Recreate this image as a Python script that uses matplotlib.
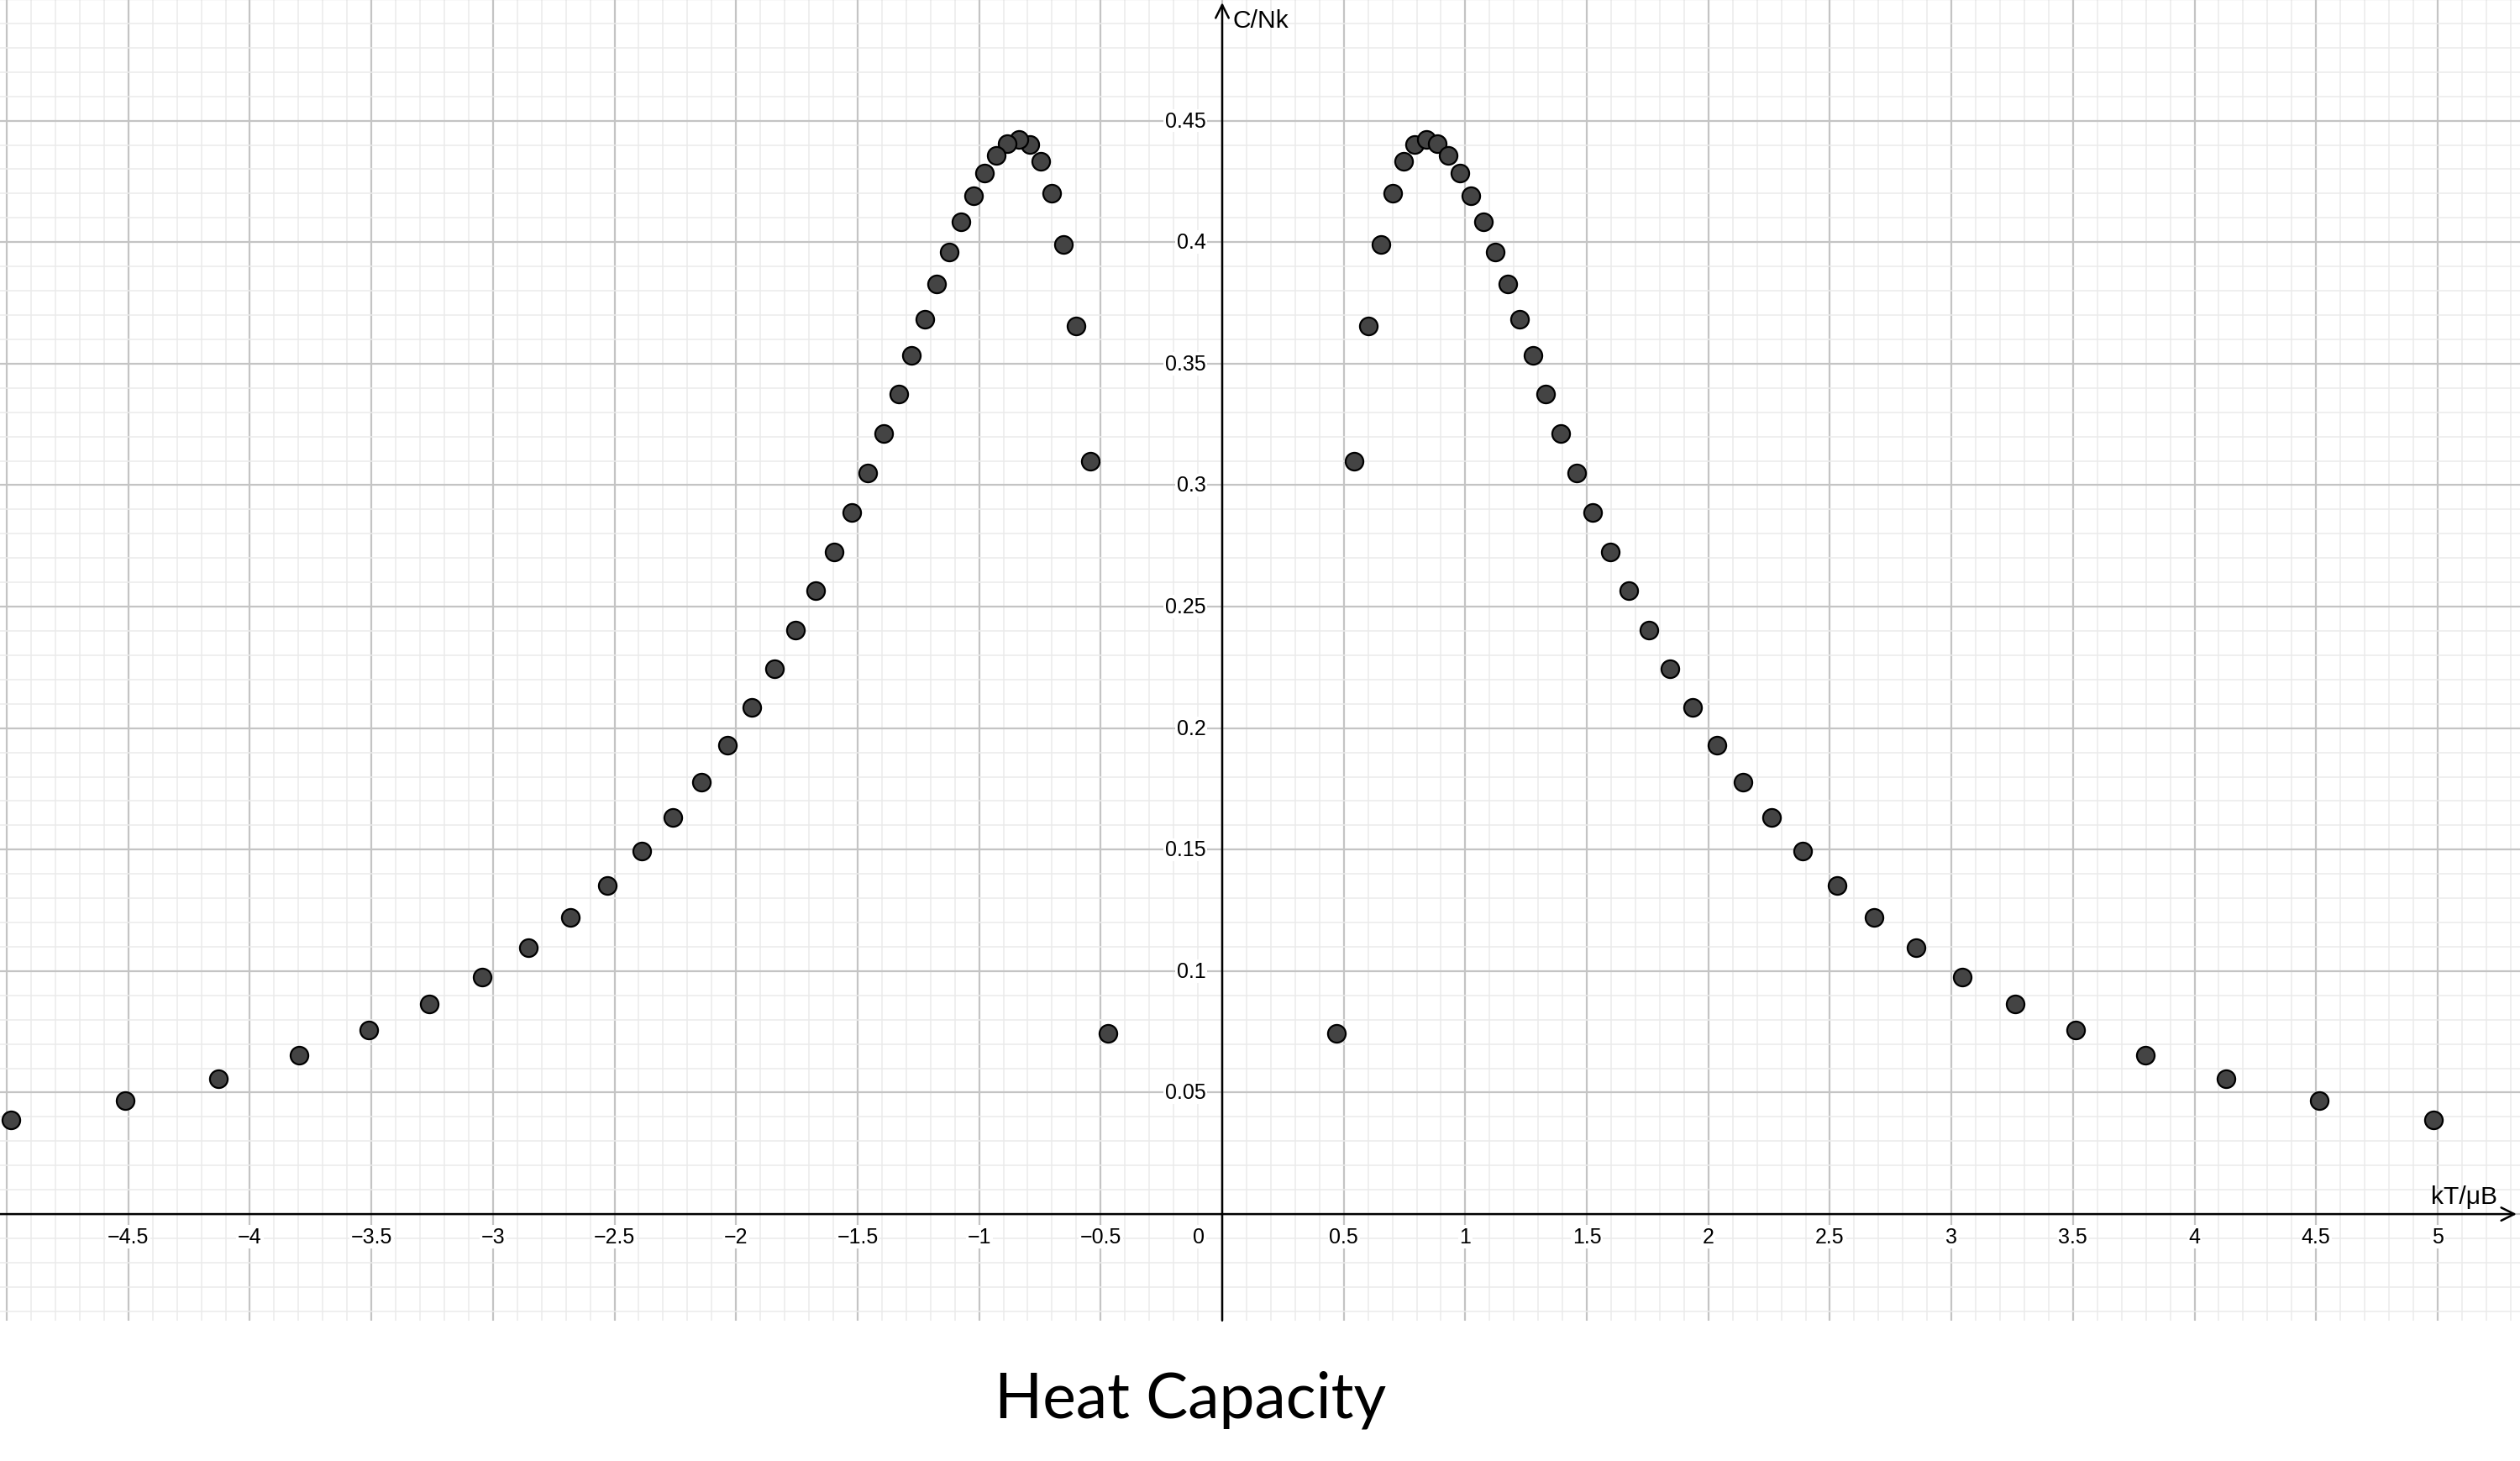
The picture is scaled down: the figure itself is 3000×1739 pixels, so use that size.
import matplotlib.pyplot as plt
import numpy as np

# values (right branch); left branch is its mirror
kt = [0.471, 0.543, 0.601, 0.653, 0.700, 0.748, 0.793, 0.838, 0.884, 0.929,
      0.977, 1.024, 1.073, 1.122, 1.174, 1.222, 1.279, 1.332, 1.394, 1.458,
      1.525, 1.596, 1.672, 1.755, 1.841, 1.934, 2.034, 2.142, 2.259, 2.388,
      2.530, 2.683, 2.856, 3.045, 3.263, 3.511, 3.797, 4.130, 4.514, 4.983]
c_nk = [0.0745, 0.3097, 0.3655, 0.3990, 0.4203, 0.4333, 0.4401, 0.4422, 0.4405, 0.4356,
        0.4283, 0.4191, 0.4083, 0.3961, 0.3828, 0.3682, 0.3535, 0.3374, 0.3214, 0.3051,
        0.2889, 0.2725, 0.2567, 0.2404, 0.2243, 0.2086, 0.1931, 0.1779, 0.1632, 0.1495,
        0.1352, 0.1222, 0.1096, 0.0977, 0.0865, 0.0758, 0.0653, 0.0556, 0.0468, 0.0387]
kt_left = [-v for v in kt]

x_labels = [-4.5, -4, -3.5, -3, -2.5, -2, -1.5, -1, -0.5, 0.5, 1, 1.5, 2, 2.5, 3, 3.5, 4, 4.5, 5]
y_labels = [0.05, 0.1, 0.15, 0.2, 0.25, 0.3, 0.35, 0.4, 0.45]

plt.rcParams['font.family'] = ['Liberation Sans', 'DejaVu Sans']

fig = plt.figure(figsize=(15, 8.7), dpi=200)
ax = fig.add_axes([0, 0.0961, 1, 0.9039])
ax.set_xlim(-5.028, 5.339)
ax.set_ylim(-0.0438, 0.5)

# grid
ax.set_xticks(np.arange(-5, 5.01, 0.5))
ax.set_xticks(np.arange(-5, 5.34, 0.1), minor=True)
ax.set_yticks(np.arange(0, 0.501, 0.05))
ax.set_yticks(np.arange(-0.04, 0.501, 0.01), minor=True)
ax.grid(which='minor', color='#ebebeb', linewidth=0.55, zorder=0)
ax.grid(which='major', color='#c4c4c4', linewidth=0.8, zorder=0)
ax.tick_params(which='both', length=0, labelbottom=False, labelleft=False)
for s in ax.spines.values():
    s.set_visible(False)

# axes with arrows
ax.annotate('', xy=(5.325, 0), xytext=(-5.03, 0),
            arrowprops=dict(arrowstyle='->', lw=0.9, color='black', mutation_scale=14,
                            shrinkA=0, shrinkB=0), zorder=3)
ax.annotate('', xy=(0, 0.4986), xytext=(0, -0.0438),
            arrowprops=dict(arrowstyle='->', lw=0.9, color='black', mutation_scale=14,
                            shrinkA=0, shrinkB=0), zorder=3)

box = dict(facecolor='white', edgecolor='none', pad=0.6)
for v in x_labels:
    ax.annotate(f"{v:g}".replace('-', '\u2212'), (v, 0), xytext=(0, -9.6),
                textcoords='offset points', ha='center', va='center',
                fontsize=9, bbox=box, zorder=4)
for v in y_labels:
    ax.annotate(f"{v:g}", (0, v), xytext=(-7, 0),
                textcoords='offset points', ha='right', va='center',
                fontsize=9, bbox=box, zorder=4)
ax.annotate('0', (0, 0), xytext=(-10, -9.6), textcoords='offset points',
            ha='center', va='center', fontsize=9, bbox=box, zorder=4)

ax.annotate('C/Nk', (0, 0.5), xytext=(4.5, -9), textcoords='offset points',
            ha='left', va='center', fontsize=10.8)
ax.annotate('kT/\u03bcB', (5.245, 0), xytext=(0, 7.5), textcoords='offset points',
            ha='right', va='center', fontsize=10.8)

# points
ax.plot(kt, c_nk, 'o', color='#444444', markeredgecolor='black', markersize=7.6,
        markeredgewidth=0.8, zorder=5, clip_on=False)
ax.plot(kt_left, c_nk, 'o', color='#444444', markeredgecolor='black', markersize=7.6,
        markeredgewidth=0.8, zorder=5, clip_on=False)

fig.text(0.4725, 0.030, 'Heat Capacity', ha='center', va='baseline',
         fontsize=27, family=['Lato', 'DejaVu Sans'])

fig.savefig('out.png', dpi=200)
